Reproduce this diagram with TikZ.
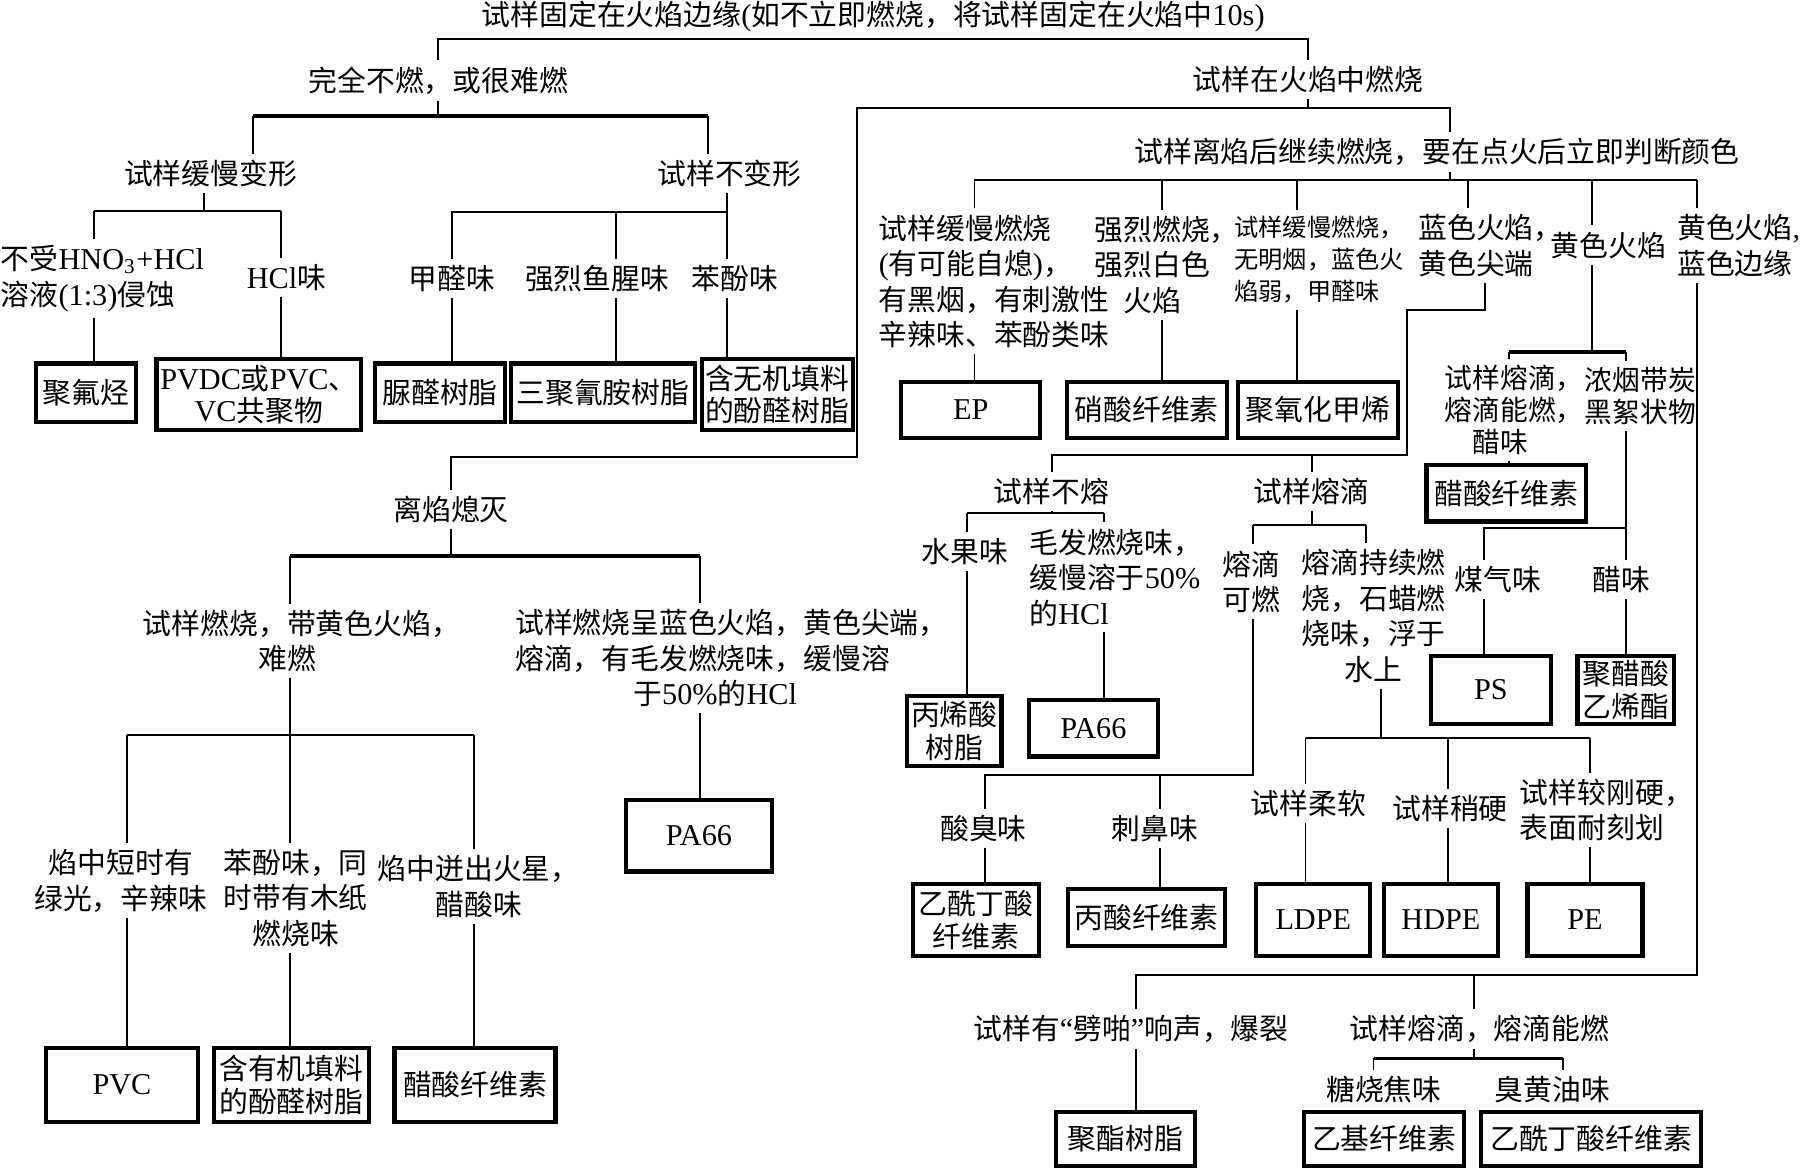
\documentclass[tikz,border=0pt]{standalone}
\usepackage{fontspec}
\setmainfont{Noto Sans CJK SC}
\newfontfamily\latfont[Scale=1.05]{Liberation Serif}
\newcommand{\lat}[1]{{\latfont #1}}
\newcommand{\upx}{0.011505cm}
\newcommand{\fsz}{\fontsize{8.2}{10.1}\selectfont}
\newcommand{\fsm}{\fontsize{6.9}{9.1}\selectfont}
\newcommand{\fst}{\fontsize{7.9}{9}\selectfont}
\newcommand{\fbx}{\fontsize{8.2}{9.2}\selectfont}
\tikzset{
  lbl/.style={inner sep=1.5pt, align=center, font=\fsz},
  res/.style 2 args={draw, line width=1.2pt, inner sep=1pt, align=center, font=\fbx,
    minimum width=#1*\upx, minimum height=#2*\upx},
  bar/.style={line width=1.1pt}
}

\begin{document}
\begin{tikzpicture}[x=\upx, y=-\upx, line width=0.55pt]
  \useasboundingbox (0,0) rectangle (1568,1016);

  % 上部
  \node[lbl] (t0) at (759,14) {试样固定在火焰边缘\lat{(}如不立即燃烧，将试样固定在火焰中\lat{10s)}};
  \node[lbl] (t1) at (381,70) {完全不燃，或很难燃};
  \node[lbl] (t2) at (1137,69) {试样在火焰中燃烧};
  \node[lbl] (t3) at (183,151) {试样缓慢变形};
  \node[lbl] (t4) at (634,151) {试样不变形};
  \node[lbl, align=left, anchor=west] (t5) at (-4.6,242) {不受\lat{HNO\textsubscript{3}+HCl}\\溶液\lat{(1:3)}侵蚀};
  \node[lbl] (t6) at (249,241) {\lat{HCl}味};
  \node[lbl] (t7) at (393,242) {甲醛味};
  \node[lbl] (t8) at (519,242) {强烈鱼腥味};
  \node[lbl] (t9) at (639,242) {苯酚味};

  \node[res={87}{51}] (b1) at (74.5,341.5) {聚氟烃};
  \node[res={178}{62}] (b2) at (225,343) {\lat{PVDC}或\lat{PVC}、\\\lat{VC}共聚物};
  \node[res={113}{51}] (b3) at (382.5,341.5) {脲醛树脂};
  \node[res={160}{51}] (b4) at (524,341.5) {三聚氰胺树脂};
  \node[res={131}{62}] (b5) at (675.5,343) {含无机填料\\的酚醛树脂};

  % 右上
  \node[lbl] (t10) at (1249,132) {试样离焰后继续燃烧，要在点火后立即判断颜色};
  \node[lbl, align=left, anchor=west] (t11) at (758.4,244.5) {试样缓慢燃烧\\\lat{(}有可能自熄\lat{)}，\\有黑烟，有刺激性\\辛辣味、苯酚类味};
  \node[lbl, align=left, anchor=west] (t12) at (946,230) {强烈燃烧，\\强烈白色\\\hspace*{1em}火焰};
  \node[lbl, align=left, anchor=west, font=\fsm] (t13) at (1067.4,225.8) {试样缓慢燃烧，\\无明烟，蓝色火\\焰弱，甲醛味};
  \node[lbl, align=left, anchor=west] (t14) at (1227.4,213.5) {蓝色火焰，\\黄色尖端};
  \node[lbl] (t15) at (1398,213) {黄色火焰};
  \node[lbl, align=left, anchor=west] (t16) at (1452.4,213.5) {黄色火焰\lat{,}\\蓝色边缘};

  \node[res={121}{49}] (b6) at (843.7,356.3) {\lat{EP}};
  \node[res={139}{49}] (b7) at (996.7,356.3) {硝酸纤维素};
  \node[res={139}{49}] (b8) at (1145.5,356.3) {聚氧化甲烯};

  \node[lbl, align=left, anchor=west, font=\fst] (t17) at (1250.4,356.2) {试样熔滴，\\熔滴能燃，\\\hspace*{1em}醋味};
  \node[lbl, align=left, anchor=west, font=\fst] (t18) at (1372,344) {浓烟带炭\\黑絮状物};
  \node[res={139}{49}] (b9) at (1309.3,428.7) {醋酸纤维素};

  % 中部
  \node[lbl] (t19) at (392,443) {离焰熄灭};
  \node[lbl] (t20) at (914,427) {试样不熔};
  \node[lbl] (t21) at (1140,427) {试样熔滴};
  \node[lbl] (t22) at (838.6,479.5) {水果味};
  \node[lbl, align=left, anchor=west] (t23) at (889.4,501.8) {毛发燃烧味，\\缓慢溶于\lat{50\%}\\的\lat{HCl}};
  \node[lbl] (t24) at (1087.5,505.6) {熔滴\\可燃};
  \node[lbl] (t25) at (1194,535.2) {熔滴持续燃\\烧，石蜡燃\\烧味，浮于\\水上};
  \node[lbl] (t26) at (1302,504) {煤气味};
  \node[lbl] (t27) at (1409.5,504) {醋味};
  \node[lbl] (t28) at (262,557) {试样燃烧，带黄色火焰，\\难燃\phantom{一}};
  \node[lbl, align=left, anchor=west] (t29) at (442.4,572.1) {试样燃烧呈蓝色火焰，黄色尖端，\\熔滴，有毛发燃烧味，缓慢溶\\\hspace*{4.1em}于\lat{50\%}的\lat{HCl}};

  \node[res={127}{62}] (b10) at (607.5,726.5) {\lat{PA66}};
  \node[res={82}{61}] (b11) at (829.5,635.4) {丙烯酸\\树脂};
  \node[res={112}{49}] (b12) at (950.3,633) {\lat{PA66}};
  \node[res={104}{59}] (b13) at (1295.8,599.7) {\lat{PS}};
  \node[res={84}{59}] (b14) at (1413.1,599.7) {聚醋酸\\乙烯酯};

  % 下部
  \node[lbl] (t30) at (105,765.5) {焰中短时有\\绿光，辛辣味};
  \node[lbl] (t31) at (257,780.5) {苯酚味，同\\时带有木纸\\燃烧味};
  \node[lbl] (t32) at (416,770.5) {焰中迸出火星，\\醋酸味};
  \node[lbl] (t33) at (854.8,720) {酸臭味};
  \node[lbl] (t34) at (1004,720) {刺鼻味};
  \node[lbl] (t35) at (1137.4,698) {试样柔软};
  \node[lbl] (t36) at (1260.4,702.6) {试样稍硬};
  \node[lbl, align=left, anchor=west] (t37) at (1315.7,704) {试样较刚硬，\\表面耐刻划};

  \node[res={109}{63}] (b15) at (848.3,799.7) {乙酰丁酸\\纤维素};
  \node[res={137}{49}] (b16) at (996.5,797.5) {丙酸纤维素};
  \node[res={99}{63}] (b17) at (1141.5,799.7) {\lat{LDPE}};
  \node[res={99}{63}] (b18) at (1252.4,799.7) {\lat{HDPE}};
  \node[res={100}{63}] (b19) at (1377.6,799.7) {\lat{PE}};
  \node[res={132}{64}] (b20) at (106,943) {\lat{PVC}};
  \node[res={135}{64}] (b21) at (253.2,943) {含有机填料\\的酚醛树脂};
  \node[res={140}{64}] (b22) at (412.9,943) {醋酸纤维素};

  \node[lbl] (t38) at (983,894) {试样有\lat{“}劈啪\lat{”}响声，爆裂};
  \node[lbl] (t39) at (1286,894) {试样熔滴，熔滴能燃};
  \node[lbl] (t40) at (1202.8,947.4) {糖烧焦味};
  \node[lbl] (t41) at (1349.3,947.4) {臭黄油味};
  \node[res={121}{47}] (b23) at (978.3,990) {聚酯树脂};
  \node[res={139}{47}] (b24) at (1203.1,990) {乙基纤维素};
  \node[res={191}{47}] (b25) at (1383,990) {乙酰丁酸纤维素};

  % 分支点
  \coordinate (jA) at (760,34);
  \coordinate (jB) at (381,101);
  \coordinate (jB1) at (220,101);
  \coordinate (jB2) at (615,101);
  \coordinate (jC) at (177,183);
  \coordinate (jC1) at (82,183);
  \coordinate (jC2) at (244.5,183);
  \coordinate (jD) at (632,184);
  \coordinate (jD1) at (393,184);
  \coordinate (jD2) at (535,184);
  \coordinate (jE) at (1137,94);
  \coordinate (jE1) at (745,94);
  \coordinate (jE2) at (1260.5,94);
  \coordinate (jE3) at (745,397.5);
  \coordinate (jF) at (1260.5,156.5);
  \coordinate (jF1) at (847,156.5);
  \coordinate (jF2) at (1010,156.5);
  \coordinate (jF3) at (1127,156.5);
  \coordinate (jF4) at (1276,156.5);
  \coordinate (jF5) at (1384,156.5);
  \coordinate (jF6) at (1475,156.5);
  \coordinate (jG1) at (1291,269.5);
  \coordinate (jG2) at (1222.7,269.5);
  \coordinate (jG3) at (1222.7,395.5);
  \coordinate (jG4) at (914,395.5);
  \coordinate (jH) at (1384,305.7);
  \coordinate (jH1) at (1311.6,305.7);
  \coordinate (jH2) at (1413,305.7);
  \coordinate (jI) at (1413,459.2);
  \coordinate (jI1) at (1290,459.2);
  \coordinate (jJ) at (1475,847.5);
  \coordinate (jJ1) at (987,847.5);
  \coordinate (jJ2) at (1281,847.5);
  \coordinate (jK) at (1281,920);
  \coordinate (jK1) at (1193.8,920);
  \coordinate (jK2) at (1358.2,920);
  \coordinate (jL) at (392,483.3);
  \coordinate (jL1) at (252,483.3);
  \coordinate (jL2) at (608.8,483.3);
  \coordinate (jM) at (252,639);
  \coordinate (jM1) at (110,639);
  \coordinate (jM2) at (411.6,639);
  \coordinate (jN) at (914,446);
  \coordinate (jN1) at (840.5,446);
  \coordinate (jN2) at (959.4,446);
  \coordinate (jO) at (1140,456.3);
  \coordinate (jO1) at (1089,456.3);
  \coordinate (jO2) at (1187,456.3);
  \coordinate (jP) at (1089,673.6);
  \coordinate (jP1) at (855.8,673.6);
  \coordinate (jP2) at (1008,673.6);
  \coordinate (jQ) at (1200.7,641.7);
  \coordinate (jQ1) at (1134.7,641.7);
  \coordinate (jQ2) at (1258.6,641.7);
  \coordinate (jQ3) at (1382.3,641.7);

  % 连线
  \draw (t1.north) |- (jA) -| (t2.north);
  \draw (t1.south) -- (jB);
  \draw[bar] (jB1) -- (jB2);
  \draw (jB1) -- (jB1 |- t3.north);
  \draw (jB2) -- (jB2 |- t4.north);

  \draw (jC |- t3.south) -- (jC);
  \draw (jC1) -- (jC2);
  \draw (jC1) -- (jC1 |- t5.north);
  \draw (jC2) -- (jC2 |- t6.north);
  \draw (jC1 |- t5.south) -- (jC1 |- b1.north);
  \draw (jC2 |- t6.south) -- (jC2 |- b2.north);

  \draw (jD |- t4.south) -- (jD) -- (jD1) -- (jD1 |- t7.north);
  \draw (jD2) -- (jD2 |- t8.north);
  \draw (jD) -- (jD |- t9.north);
  \draw (jD1 |- t7.south) -- (jD1 |- b3.north);
  \draw (jD2 |- t8.south) -- (jD2 |- b4.north);
  \draw (jD |- t9.south) -- (jD |- b5.north);

  \draw (t2.south) -- (jE);
  \draw (jE2 |- t10.north) -- (jE2) -- (jE1) -- (jE3) -| (t19.north);

  \draw (jF |- t10.south) -- (jF);
  \draw (jF1) -- (jF6);
  \draw (jF1) -- (jF1 |- t11.north);
  \draw (jF2) -- (jF2 |- t12.north);
  \draw (jF3) -- (jF3 |- t13.north);
  \draw (jF4) -- (jF4 |- t14.north);
  \draw (jF5) -- (jF5 |- t15.north);
  \draw (jF6) -- (jF6 |- t16.north);
  \draw (jF1 |- t11.south) -- (jF1 |- b6.north);
  \draw (jF2 |- t12.south) -- (jF2 |- b7.north);
  \draw (jF3 |- t13.south) -- (jF3 |- b8.north);

  \draw (jG1 |- t14.south) -- (jG1) -- (jG2) -- (jG3) -- (jG4) -- (jG4 |- t20.north);
  \draw (t21.north) -- (t21.north |- jG3);

  \draw (jH |- t15.south) -- (jH);
  \draw[bar] (jH1) -- (jH2);
  \draw (jH1) -- (jH1 |- t17.north);
  \draw (jH2) -- (jH2 |- t18.north);
  \draw (jH1 |- t17.south) -- (jH1 |- b9.north);
  \draw (jI |- t18.south) -- (jI) -- (jI1) -- (jI1 |- t26.north);
  \draw (jI) -- (jI |- t27.north);
  \draw (jI1 |- t26.south) -- (jI1 |- b13.north);
  \draw (jI |- t27.south) -- (jI |- b14.north);

  \draw (jF6 |- t16.south) -- (jJ) -- (jJ1) -- (jJ1 |- t38.north);
  \draw (jJ2) -- (jJ2 |- t39.north);
  \draw (jJ1 |- t38.south) -- (jJ1 |- b23.north);
  \draw (jK |- t39.south) -- (jK);
  \draw[bar] (jK1) -- (jK2);
  \draw (jK1) -- (jK1 |- t40.north);
  \draw (jK2) -- (jK2 |- t41.north);

  \draw (t19.south) -- (jL);
  \draw[bar] (jL1) -- (jL2);
  \draw (jL1) -- (jL1 |- t28.north);
  \draw (jL2) -- (jL2 |- t29.north);
  \draw (jL2 |- t29.south) -- (jL2 |- b10.north);
  \draw (jM |- t28.south) -- (jM |- t31.north);
  \draw (jM1) -- (jM2);
  \draw (jM1) -- (jM1 |- t30.north);
  \draw (jM2) -- (jM2 |- t32.north);
  \draw (jM1 |- t30.south) -- (jM1 |- b20.north);
  \draw (jM |- t31.south) -- (jM |- b21.north);
  \draw (jM2 |- t32.south) -- (jM2 |- b22.north);

  \draw (t20.south) -- (jN);
  \draw (jN1) -- (jN2);
  \draw (jN1) -- (jN1 |- t22.north);
  \draw (jN2) -- (jN2 |- t23.north);
  \draw (jN1 |- t22.south) -- (jN1 |- b11.north);
  \draw (jN2 |- t23.south) -- (jN2 |- b12.north);

  \draw (t21.south) -- (jO);
  \draw (jO1) -- (jO2);
  \draw (jO1) -- (jO1 |- t24.north);
  \draw (jO2) -- (jO2 |- t25.north);
  \draw (jO1 |- t24.south) -- (jP) -- (jP1) -- (jP1 |- t33.north);
  \draw (jP2) -- (jP2 |- t34.north);
  \draw (jP1 |- t33.south) -- (jP1 |- b15.north);
  \draw (jP2 |- t34.south) -- (jP2 |- b16.north);
  \draw (jQ |- t25.south) -- (jQ);
  \draw (jQ1) -- (jQ3);
  \draw (jQ1) -- (jQ1 |- t35.north);
  \draw (jQ2) -- (jQ2 |- t36.north);
  \draw (jQ3) -- (jQ3 |- t37.north);
  \draw (jQ1 |- t35.south) -- (jQ1 |- b17.north);
  \draw (jQ2 |- t36.south) -- (jQ2 |- b18.north);
  \draw (jQ3 |- t37.south) -- (jQ3 |- b19.north);
\end{tikzpicture}
\end{document}
